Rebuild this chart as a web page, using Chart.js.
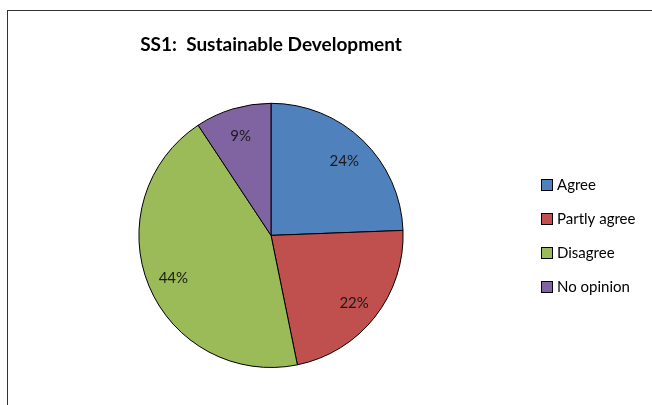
<!DOCTYPE html>
<html>
<head>
<meta charset="utf-8">
<script src="https://cdn.jsdelivr.net/npm/chart.js@4"></script>
<style>
  body { margin: 0; background: #fff; }
  #wrap { position: relative; width: 652px; height: 405px; overflow: hidden; }
  #frame { position: absolute; left: 7px; top: 10px; width: 700px; height: 500px;
           border-left: 1px solid #333; border-top: 1px solid #333; }
  #myChart { position: absolute; left: 0; top: 0; }
</style>
</head>
<body>
<div id="wrap">
  <div id="frame"></div>
  <canvas id="myChart" width="652" height="405"></canvas>
</div>
<script>
// values (slice labels are rounded)
var labels = ["Agree", "Partly agree", "Disagree", "No opinion"];
var values = [24.4, 22.4, 43.9, 9.3];
var colors = ["#4F81BD", "#C0504D", "#9BBB59", "#8064A2"];

var fontFamily = "Lato, 'Open Sans', sans-serif";

// percent labels inside slices
var sliceLabels = {
    id: "sliceLabels",
    afterDatasetsDraw(chart) {
        var ctx = chart.ctx;
        var meta = chart.getDatasetMeta(0);
        var total = values.reduce((a, b) => a + b, 0);
        ctx.save();
        ctx.font = "15px " + fontFamily;
        ctx.fillStyle = "#1a1a1a";
        ctx.textAlign = "center";
        ctx.textBaseline = "middle";
        meta.data.forEach((arc, i) => {
            var mid = (arc.startAngle + arc.endAngle) / 2;
            var r = arc.outerRadius * 0.8;
            var x = arc.x + Math.cos(mid) * r;
            var y = arc.y + Math.sin(mid) * r + 2;
            ctx.fillText(Math.round(values[i] / total * 100) + "%", x, y);
        });
        ctx.restore();
    }
};

// legend on the right, excel style
var sideLegend = {
    id: "sideLegend",
    afterDraw(chart) {
        var ctx = chart.ctx;
        ctx.save();
        ctx.font = "15px " + fontFamily;
        ctx.textBaseline = "middle";
        labels.forEach((name, i) => {
            var y = 185 + i * 34;
            ctx.fillStyle = colors[i];
            ctx.fillRect(541, y - 6, 12, 12);
            ctx.strokeStyle = "#000";
            ctx.lineWidth = 1;
            ctx.strokeRect(541.5, y - 5.5, 11, 11);
            ctx.fillStyle = "#000";
            ctx.fillText(name, 557, y);
        });
        ctx.restore();
    }
};

new Chart("myChart", {
    type: "pie",
    data: {
        labels: labels,
        datasets: [{
            data: values,
            backgroundColor: colors,
            borderColor: "#000",
            borderWidth: 1
        }]
    },
    options: {
        responsive: false,
        animation: false,
        layout: { padding: { top: 0, left: 0, right: 110, bottom: 37 } },
        plugins: {
            legend: { display: false },
            tooltip: { enabled: false },
            title: {
                display: true,
                text: "SS1:  Sustainable Development",
                color: "#000",
                font: { family: fontFamily, size: 19, weight: "bold" },
                padding: { top: 33, bottom: 47 }
            }
        }
    },
    plugins: [sliceLabels, sideLegend]
});
</script>
</body>
</html>
